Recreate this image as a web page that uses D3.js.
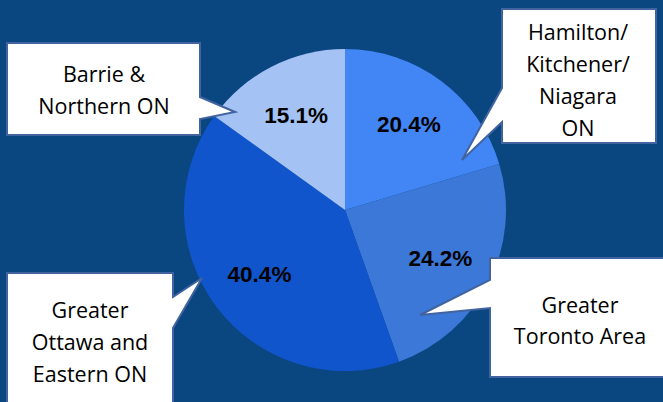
<!DOCTYPE html>
<html>
<head>
<meta charset="utf-8">
<script src="https://cdn.jsdelivr.net/npm/d3@7"></script>
<style>
  body { margin: 0; background: #0a4680; }
  svg { display: block; }
</style>
</head>
<body>
<script>
// data
var regions = ["Hamilton/Kitchener/Niagara ON", "Greater Toronto Area", "Greater Ottawa and Eastern ON", "Barrie & Northern ON"];
var shares = [20.4, 24.2, 40.4, 15.1];
var sliceColors = ["#4285f4", "#3c78d8", "#1155cc", "#a4c2f4"];
var calloutLines = [
    ["Hamilton/", "Kitchener/", "Niagara", "ON"],
    ["Greater", "Toronto Area"],
    ["Greater", "Ottawa and", "Eastern ON"],
    ["Barrie &", "Northern ON"]
];

var width = 663, height = 402;
var cx = 345, cy = 210, radius = 161;

var svg = d3.select("body").append("svg")
    .attr("width", width)
    .attr("height", height);

svg.append("rect")
    .attr("width", width)
    .attr("height", height)
    .attr("fill", "#0a4680");

// pie
var pie = d3.pie().sort(null).value(function(d) { return d; });
var arcs = pie(shares);
var arc = d3.arc().innerRadius(0).outerRadius(radius);
var labelArc = d3.arc().innerRadius(107).outerRadius(107);

var g = svg.append("g").attr("transform", "translate(" + cx + "," + cy + ")");

g.selectAll("path.slice")
    .data(arcs)
    .enter()
    .append("path")
    .classed("slice", true)
    .attr("d", arc)
    .attr("fill", function(d, i) { return sliceColors[i]; });

g.selectAll("text.pct")
    .data(arcs)
    .enter()
    .append("text")
    .classed("pct", true)
    .attr("x", function(d) { return labelArc.centroid(d)[0]; })
    .attr("y", function(d) { return labelArc.centroid(d)[1] + 8; })
    .attr("text-anchor", "middle")
    .attr("font-family", "Liberation Sans, Arial, sans-serif")
    .attr("font-weight", "bold")
    .attr("font-size", 22.5)
    .attr("fill", "#000")
    .text(function(d) { return d.data.toFixed(1) + "%"; });

// callout boxes (layout: box + pointer)
var callouts = [
    {path: "M502,9 H656 V143 H502 V122 L462,160 L502,88 Z", tx: 578, ty: 40, lh: 32},
    {path: "M490,258 H666 V377 H490 V308 L420,315 L490,280 Z", tx: 580, ty: 313, lh: 31},
    {path: "M7,273 H173 V297 L202,278 L173,328 V410 H7 Z", tx: 90, ty: 318, lh: 32},
    {path: "M7,43 H200 V97 L235,112 L200,119 V135 H7 Z", tx: 104, ty: 82, lh: 32}
];

var cg = svg.selectAll("g.callout")
    .data(callouts)
    .enter()
    .append("g")
    .classed("callout", true);

cg.append("path")
    .attr("d", function(d) { return d.path; })
    .attr("fill", "#ffffff")
    .attr("stroke", "#41639f")
    .attr("stroke-width", 2)
    .attr("stroke-linejoin", "miter");

cg.each(function(d, i) {
    var t = d3.select(this).append("text")
        .attr("text-anchor", "middle")
        .attr("font-family", "Open Sans, sans-serif")
        .attr("font-size", 21.5)
        .attr("fill", "#000");
    calloutLines[i].forEach(function(line, j) {
        t.append("tspan")
            .attr("x", d.tx)
            .attr("y", d.ty + j * d.lh)
            .text(line);
    });
});
</script>
</body>
</html>
